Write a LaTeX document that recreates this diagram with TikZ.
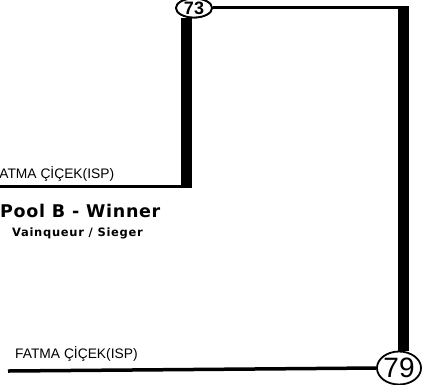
\documentclass[tikz,border=0pt]{standalone}
\usepackage{fontspec}
\setmainfont{Liberation Sans}
\newfontfamily\heavyfont{DejaVu Sans}
\usetikzlibrary{shapes.geometric}
\begin{document}
\begin{tikzpicture}[x=1pt,y=-1pt,
  thinline/.style={line width=3pt},
  thickbar/.style={line width=11pt},
  seed/.style={draw,ellipse,line width=1.8pt,fill=white,inner sep=0pt},
  player/.style={anchor=base west,font=\fontsize{13.8}{15}\selectfont,inner sep=0pt}]
\useasboundingbox (0,0) rectangle (422,384);
% coordinates
\coordinate (tl) at (0,186);
\coordinate (tc) at (186,186);
\coordinate (tr) at (403,7);
\coordinate (bl) at (8,371);
% seeds
\node[seed,minimum width=36pt,minimum height=19pt] (s73) at (194,8) {\fontsize{18}{18}\selectfont\bfseries 73};
\node[seed,minimum width=34pt,minimum height=33pt] (s79) at (399,368) {\fontsize{28}{28}\selectfont 79};
\draw[thickbar] (s73.south -| tc) -- (tc);
\draw[thinline] (tl) -- ([xshift=5.5pt]tc);
\draw[thinline] (s73.east |- tr) -- ([xshift=5.5pt]tr);
\draw[thickbar] ([yshift=-1.5pt]tr) -- (tr |- s79.north);
\draw[line width=3.5pt] (bl) -- (s79.west);
\node[seed,minimum width=36pt,minimum height=19pt] at (194,8) {\fontsize{18}{18}\selectfont\bfseries 73};
\node[player] (n1) at (-8.5,178) {FATMA ÇİÇEK(ISP)};
\node[player] (n2) at (15,358) {FATMA ÇİÇEK(ISP)};
\node[anchor=base west,inner sep=0pt,font=\heavyfont\bfseries\fontsize{17.5}{18}\selectfont] (pool) at (0,217) {\addfontfeature{LetterSpace=4}Pool B - Winner};
\node[anchor=base west,inner sep=0pt,font=\heavyfont\bfseries\fontsize{11.5}{12}\selectfont] (vs) at (12,236) {\addfontfeature{LetterSpace=6}Vainqueur / Sieger};
\end{tikzpicture}
\end{document}
